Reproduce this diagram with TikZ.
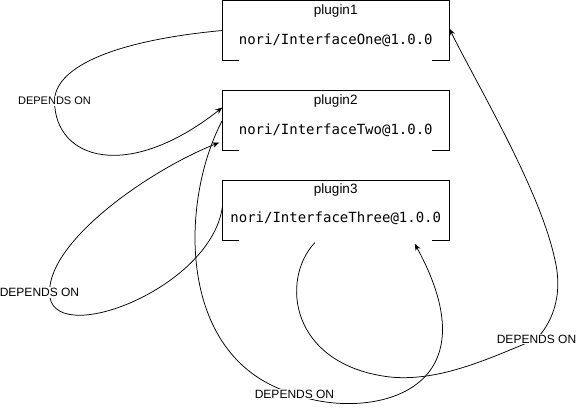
\documentclass[tikz,border=0pt]{standalone}
\usepackage{fontspec}
\setmainfont{Liberation Sans}
\newfontfamily\monof{DejaVu Sans Mono}
\usetikzlibrary{arrows.meta,calc}
\pgfdeclarelayer{bg}
\pgfsetlayers{bg,main}
\begin{document}
\begin{tikzpicture}[x=1pt,y=-1pt,
  plug/.style={minimum width=226.5pt,minimum height=60pt,inner sep=0pt,draw=none},
  bracket/.style={line width=1pt},
  title/.style={font=\fontsize{13.5}{16}\selectfont,anchor=base,inner sep=0pt},
  iface/.style={font=\monof\fontsize{14}{16}\selectfont,anchor=base,inner sep=0pt},
  lbl/.style={font=\fontsize{12}{14}\selectfont,fill=white,inner sep=1pt},
  dep/.style={line width=0.75pt,-{Stealth[length=7pt,width=5.5pt]}}]
\useasboundingbox (0,0) rectangle (577,407);

% boxes
\node[plug] (p1) at (335.75,30.5) {};
\node[plug] (p2) at (335.75,120.5) {};
\node[plug] (p3) at (335.75,210.5) {};
\foreach \p in {p1,p2,p3}
  \draw[bracket] ([xshift=16.5pt]\p.south west) -- (\p.south west) -- (\p.north west)
     -- (\p.north east) -- (\p.south east) -- ([xshift=-17pt]\p.south east);

\node[title] (t1) at ($(p1.north)+(0,14)$) {plugin1};
\node[iface] (i1) at ($(p1.north)+(0,44)$) {nori/InterfaceOne@1.0.0};
\node[title] (t2) at ($(p2.north)+(0,14)$) {plugin2};
\node[iface] (i2) at ($(p2.north)+(0,44)$) {nori/InterfaceTwo@1.0.0};
\node[title] (t3) at ($(p3.north)+(0,13.5)$) {plugin3};
\node[iface] (i3) at ($(p3.north)+(0,42.5)$) {nori/InterfaceThree@1.0.0};

% labels
\node[lbl,font=\fontsize{11}{13}\selectfont] (l1) at (54.5,101) {DEPENDS ON};
\node[lbl] (l2) at (39.5,292.5) {DEPENDS ON};
\node[lbl] (l3) at (294.5,394) {DEPENDS ON};
\node[lbl] (l4) at (536.5,339) {DEPENDS ON};

\begin{pgfonlayer}{bg}
% plugin1 -> plugin2
\draw[dep] (p1.west) .. controls (120,40) and (55,65) .. (l1.center)
  .. controls (55,160) and (128,182) .. ([yshift=13pt]p2.west);
% plugin3 -> plugin2
\draw[dep] ([yshift=3pt]p3.west) .. controls (210,290) and (49,350) .. ([xshift=10pt]l2.center)
  .. controls (49,240) and (150,170) .. ([xshift=-3pt,yshift=-22pt]p2.west);
% plugin2 -> plugin3
\draw[dep] (p2.west) .. controls (180,200) and (175,360) .. (l3.center)
  .. controls (360,420) and (500,400) .. ([xshift=79pt,yshift=-3pt]p3.south);
% plugin3 -> plugin1
\draw[dep] ([xshift=-21pt,yshift=-2pt]p3.south) .. controls (280,280) and (290,365) .. (390,377)
  .. controls (440,382) and (490,358) .. (l4.center)
  .. controls (556,318) and (562,290) .. (555,260)
  .. controls (540,190) and (480,90) .. ([yshift=2pt]p1.east);
\end{pgfonlayer}
\end{tikzpicture}
\end{document}
